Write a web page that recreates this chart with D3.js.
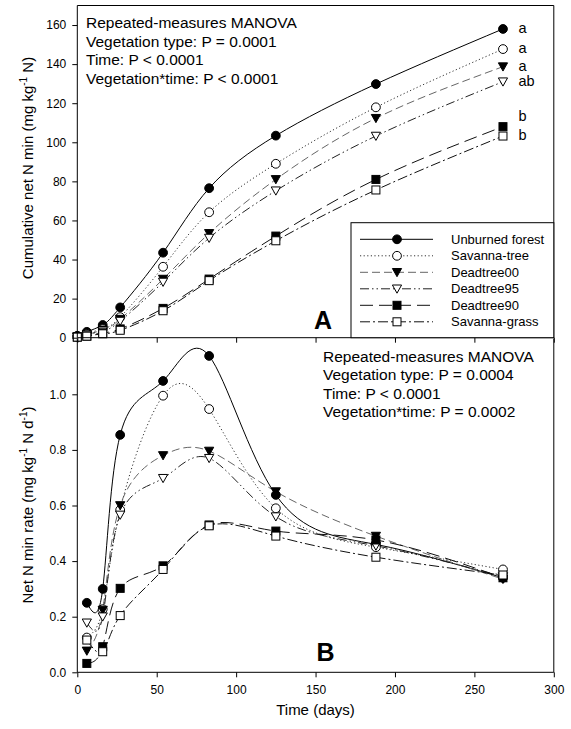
<!DOCTYPE html>
<html><head><meta charset="utf-8">
<script src="https://cdn.jsdelivr.net/npm/d3@7"></script>
<style>body{margin:0;background:#fff}svg{display:block}text{font-family:"Liberation Sans",Arial,sans-serif;fill:#000}</style>
</head><body><svg id="c" width="571" height="729"></svg>
<script>
const seriesNames = ["Unburned forest","Savanna-tree","Deadtree00","Deadtree95","Deadtree90","Savanna-grass"];
const daysA = [0,6,16,27,54,83,125,188,268];
const cumForest   = [1,3,6.5,15.5,43.5,76.5,103.4,129.8,158];
const cumSavTree  = [0.5,2,4.5,10.5,36.3,64.2,89,117.9,147.7];
const cumDead00   = [0.5,1.5,4,9.5,30,53.4,81,112.3,138.7];
const cumDead95   = [0.5,1.5,3.5,8.5,28.5,51,75.2,103.2,131];
const cumDead90   = [0.3,0.8,2.5,4.5,15,30,52,81,108];
const cumSavGrass = [0.3,0.8,2,3.8,13.8,29.2,49.6,75.6,103.2];
const daysB = [6,16,27,54,83,125,188,268];
const rateForest   = [0.25,0.30,0.854,1.048,1.138,0.638,0.46,0.34];
const rateSavTree  = [0.125,0.227,0.584,0.995,0.947,0.59,0.45,0.37];
const rateDead00   = [0.077,0.224,0.60,0.78,0.796,0.65,0.49,0.335];
const rateDead95   = [0.178,0.20,0.566,0.698,0.77,0.56,0.455,0.345];
const rateDead90   = [0.032,0.092,0.302,0.383,0.53,0.508,0.476,0.34];
const rateSavGrass = [0.116,0.074,0.204,0.37,0.527,0.49,0.414,0.35];
const letters = ["a","a","a","ab","b","b"];
const xTicks = [0,50,100,150,200,250,300];
const yTicksA = [0,20,40,60,80,100,120,140,160];
const yTicksB = [0,0.2,0.4,0.6,0.8,1.0];
const textA = ["Repeated-measures MANOVA","Vegetation type: P = 0.0001","Time: P < 0.0001","Vegetation*time: P < 0.0001"];
const textB = ["Repeated-measures MANOVA","Vegetation type: P = 0.0004","Time: P < 0.0001","Vegetation*time: P = 0.0002"];

const cumData = [cumForest,cumSavTree,cumDead00,cumDead95,cumDead90,cumSavGrass];
const rateData = [rateForest,rateSavTree,rateDead00,rateDead95,rateDead90,rateSavGrass];
const styles = [
  {dash:null, stroke:"#000", sym:"circle", fill:"#000"},
  {dash:"1.2,2.4", stroke:"#333", sym:"circle", fill:"#fff"},
  {dash:"8,4", stroke:"#666", sym:"tri", fill:"#000"},
  {dash:"9,3,1.5,3,1.5,3", stroke:"#222", sym:"tri", fill:"#fff"},
  {dash:"13,6", stroke:"#111", sym:"sq", fill:"#000"},
  {dash:"10,3,2,3", stroke:"#111", sym:"sq", fill:"#fff"}
];

const svg = d3.select("#c");
const x = d3.scaleLinear().domain([0,300]).range([77.3,553.8]);
const yA = d3.scaleLinear().domain([0,170]).range([337.7,5.5]);
const yB = d3.scaleLinear().domain([0,1.2]).range([672.3,338.7]);

function drawSym(g, sym, fill, cx, cy){
  if(sym==="circle") g.append("circle").attr("cx",cx).attr("cy",cy).attr("r",4.4).attr("fill",fill).attr("stroke","#000").attr("stroke-width",1);
  else if(sym==="sq") g.append("rect").attr("x",cx-4).attr("y",cy-4).attr("width",8).attr("height",8).attr("fill",fill).attr("stroke","#000").attr("stroke-width",1);
  else g.append("path").attr("d",`M${cx-4.6},${cy-3.8}L${cx+4.6},${cy-3.8}L${cx},${cy+4.4}Z`).attr("fill",fill).attr("stroke","#000").attr("stroke-width",1);
}

function panel(days, data, y, ticks, fmt, showXLabels, top){
  const g = svg.append("g");
  g.append("line").attr("x1",x(300)).attr("x2",x(300)).attr("y1",top).attr("y2",y(0)).attr("stroke","#000");
  data.forEach((vals,i)=>{
    const st = styles[i];
    const line = d3.line().x((d,j)=>x(days[j])).y(d=>y(d)).curve(d3.curveNatural);
    g.append("path").attr("d",line(vals)).attr("fill","none").attr("stroke",st.stroke).attr("stroke-width",1)
      .attr("stroke-dasharray",st.dash);
  });
  data.forEach((vals,i)=>{
    const st = styles[i];
    vals.forEach((v,j)=>drawSym(g, st.sym, st.fill, x(days[j]), y(v)));
  });
  const xa = d3.axisBottom(x).tickValues(xTicks).tickSize(5).tickPadding(8).tickFormat(showXLabels? d3.format("d"): "");
  const gx = g.append("g").attr("transform",`translate(0,${y(0)})`).call(xa);
  const ya = d3.axisLeft(y).tickValues(ticks).tickSize(5).tickPadding(6).tickFormat(fmt);
  const gy = g.append("g").attr("transform",`translate(${x(0)},0)`).call(ya);
  [gx,gy].forEach(a=>{a.select(".domain").remove(); a.selectAll("text").attr("font-size",12).attr("font-family","Liberation Sans, Arial, sans-serif").attr("fill","#000");});
  g.append("line").attr("x1",x(0)).attr("x2",x(300)).attr("y1",y(0)).attr("y2",y(0)).attr("stroke","#000");
  g.append("line").attr("x1",x(0)).attr("x2",x(0)).attr("y1",top).attr("y2",y(0)).attr("stroke","#000");
  return g;
}

svg.append("line").attr("x1",x(0)).attr("x2",x(300)).attr("y1",yA(170)).attr("y2",yA(170)).attr("stroke","#000");
panel(daysA, cumData, yA, yTicksA, d3.format("d"), false, yA(170));
panel(daysB, rateData, yB, yTicksB, d3.format(".1f"), true, yB(1.2));

letters.forEach((l,i)=>{
  const last = cumData[i][cumData[i].length-1];
  svg.append("text").attr("x",x(daysA[daysA.length-1])+15.5).attr("y",yA(last)+(i===4?-10:0)).attr("dy","0.3em")
    .attr("font-size",14.5).text(l);
});

textA.forEach((t,i)=>svg.append("text").attr("x",86).attr("y",28.3+i*18.5).attr("font-size",15.5).text(t));
textB.forEach((t,i)=>svg.append("text").attr("x",323).attr("y",361.7+i*18.5).attr("font-size",15.5).text(t));

const lg = svg.append("g");
lg.append("rect").attr("x",351).attr("y",222.7).attr("width",x(300)-351).attr("height",yA(0)-222.7).attr("fill","#fff").attr("stroke","#000");
seriesNames.forEach((n,i)=>{
  const st = styles[i]; const cy = 239.3+i*16.5;
  lg.append("line").attr("x1",360).attr("x2",433).attr("y1",cy).attr("y2",cy).attr("stroke",st.stroke).attr("stroke-dasharray",st.dash);
  drawSym(lg, st.sym, st.fill, 397, cy);
  lg.append("text").attr("x",451).attr("y",cy).attr("dy","0.35em").attr("font-size",13).text(n);
});

svg.append("text").attr("x",323).attr("y",328.5).attr("text-anchor","middle").attr("font-size",25).attr("font-weight","bold").text("A");
svg.append("text").attr("x",325.5).attr("y",661).attr("text-anchor","middle").attr("font-size",25).attr("font-weight","bold").text("B");

svg.append("text").attr("x",315.5).attr("y",715).attr("text-anchor","middle").attr("font-size",15).text("Time (days)");
function yLabel(cy, parts){
  const t = svg.append("text").attr("transform",`translate(33,${cy}) rotate(-90)`).attr("text-anchor","middle").attr("font-size",15);
  parts.forEach(p=>{
    const s = t.append("tspan").text(p[0]);
    if(p[1]==="sup") s.attr("font-size",10).attr("dy",-6);
    else if(p[1]==="after") s.attr("dy",6);
  });
}
yLabel(168, [["Cumulative net N min (mg kg"],["-1","sup"],[" N)","after"]]);
yLabel(505, [["Net N min rate (mg kg"],["-1","sup"],[" N d","after"],["-1","sup"],[")","after"]]);
</script></body></html>
